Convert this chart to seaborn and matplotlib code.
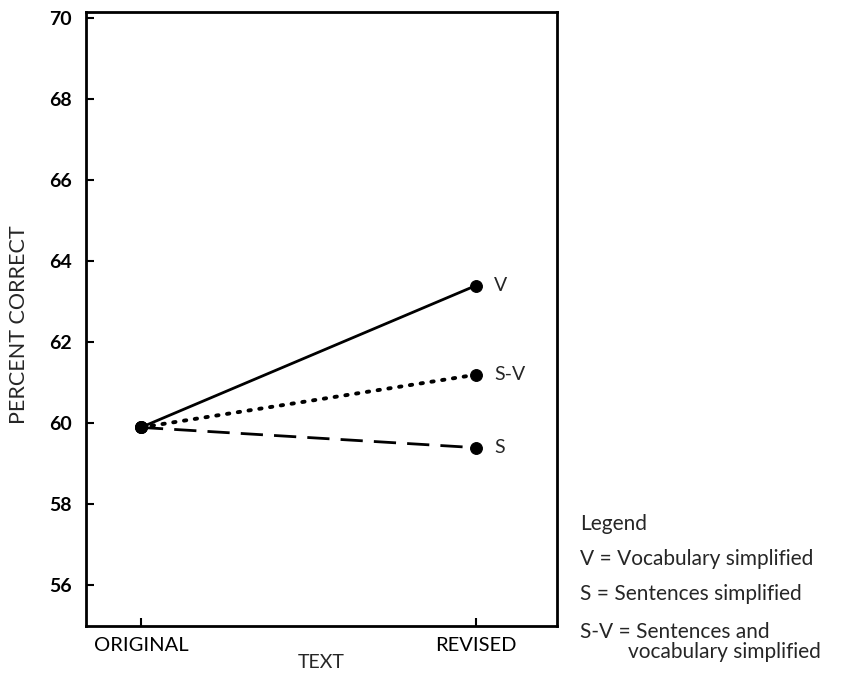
import matplotlib
matplotlib.use("Agg")
import matplotlib.pyplot as plt
import seaborn as sns
import pandas as pd

# ---- data ----
text_levels = ["ORIGINAL", "REVISED"]
series_names = ["V", "S-V", "S"]
v_values = [59.9, 63.4]
sv_values = [59.9, 61.2]
s_values = [59.9, 59.4]
y_ticks = [56, 58, 60, 62, 64, 66, 68, 70]
legend_title = "Legend"
legend_lines = ["V = Vocabulary simplified",
                "S = Sentences simplified",
                "S-V = Sentences and",
                "vocabulary simplified"]

sns.set_style("white")
plt.rcParams['font.family'] = ['Lato', 'DejaVu Sans']

rows = []
for name, vals in zip(series_names, [v_values, sv_values, s_values]):
    for i, val in enumerate(vals):
        rows.append({"text": i, "percent": val, "series": name})
df = pd.DataFrame(rows)

fig = plt.figure(figsize=(8.46, 6.76), dpi=100)
ax = fig.add_axes([86 / 846, 1 - 626 / 676, (557 - 86) / 846, (626 - 12) / 676])

styles = {"V": dict(linestyle="-"),
          "S-V": dict(linestyle=(0, (0.6, 2.2)), dash_capstyle="round"),
          "S": dict(linestyle=(0, (8, 4)))}

for name in series_names:
    sub = df[df["series"] == name]
    sns.lineplot(data=sub, x="text", y="percent", ax=ax, color="black",
                 linewidth=2.0 if name != "S-V" else 2.8, marker="o", markersize=8.5,
                 markeredgecolor="black", markerfacecolor="black", **styles[name])
    last = sub.iloc[-1]
    ax.annotate(name, xy=(last["text"], last["percent"]), xytext=(13, 0),
                textcoords="offset points", va="center", ha="left",
                fontsize=14)

ax.set_xlim(-0.164, 1.242)
ax.set_ylim(55.0, 70.15)
ax.set_xticks([0, 1])
ax.set_xticklabels(text_levels, fontsize=14.5)
ax.set_yticks(y_ticks)
ax.set_yticklabels([str(t) for t in y_ticks], fontsize=14, fontweight="bold")
ax.tick_params(axis="both", direction="in", length=6, width=1.5,
               colors="black", left=True, bottom=True)
ax.tick_params(axis="x", pad=8)
ax.tick_params(axis="y", pad=10)
for sp in ax.spines.values():
    sp.set_visible(True)
    sp.set_linewidth(2)
    sp.set_color("black")

ax.set_xlabel("TEXT", fontsize=14)
ax.set_ylabel("PERCENT CORRECT", fontsize=15.5)
ax.xaxis.set_label_coords(0.5, -0.046)
ax.yaxis.set_label_coords(-0.12, 0.49)

# legend text block
fig.text(580 / 846, 1 - 524 / 676, legend_title, fontsize=15, va="center", ha="left")
ys = [559, 594, 632, 652]
xs = [580, 580, 580, 628]
for t, yy, xx in zip(legend_lines, ys, xs):
    fig.text(xx / 846, 1 - yy / 676, t, fontsize=15, va="center", ha="left")

fig.savefig("out.png", dpi=100)
